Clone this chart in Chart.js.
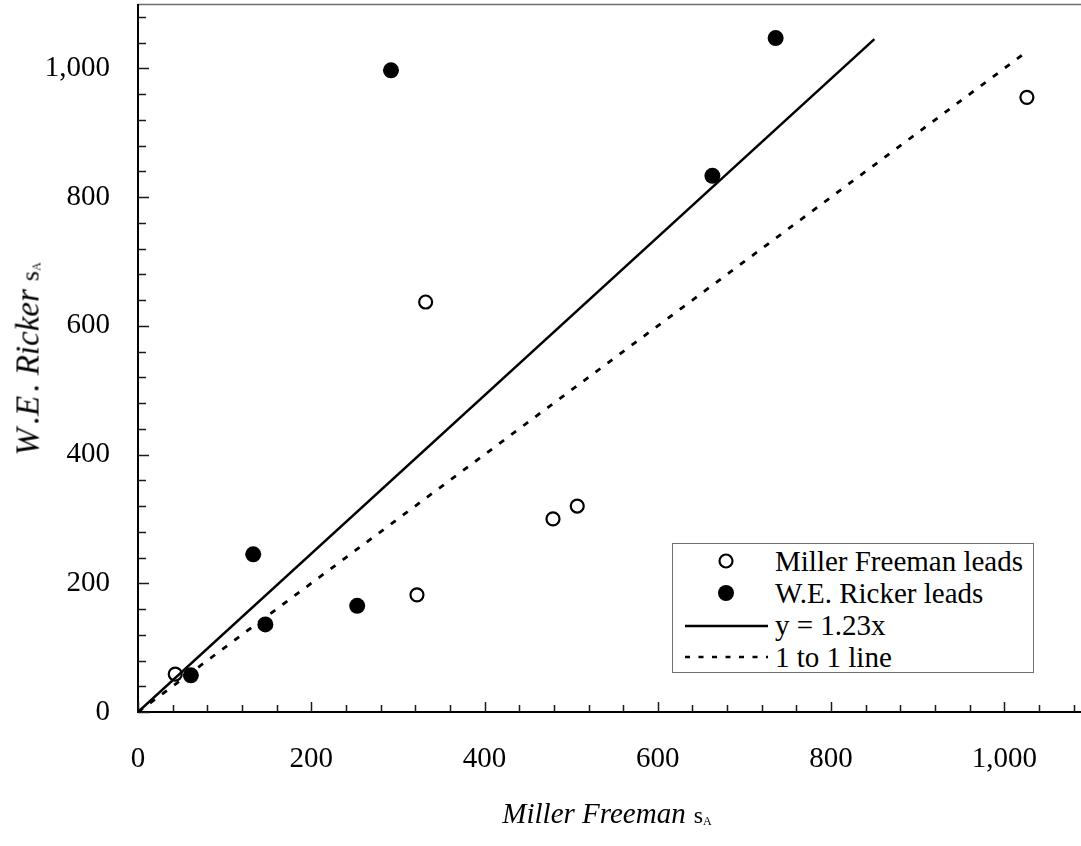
<!DOCTYPE html>
<html>
<head>
<meta charset="utf-8">
<script src="https://cdn.jsdelivr.net/npm/chart.js@4.4.0/dist/chart.umd.min.js"></script>
<style>
html,body{margin:0;padding:0;background:#fff;overflow:hidden;width:1081px;height:846px;}
#wrap{position:relative;width:1100px;height:846px;}
#wrap canvas{display:block;}
.serif{font-family:"Liberation Serif","Times New Roman",serif;color:#000;white-space:nowrap;}
.ttl{position:absolute;line-height:1;}
.ttl i{font-style:italic;}
.sa{font-style:normal;margin-left:8px;}
.sa sub{font-size:12px;vertical-align:-2px;}
#legend{position:absolute;left:672px;top:543px;width:362px;height:130px;border:1px solid #707070;box-sizing:border-box;background:#fff;}
.row{position:absolute;left:0;height:32px;width:360px;}
.row svg{position:absolute;left:0;top:0;}
.row span{position:absolute;left:102px;top:0;font-size:29px;line-height:32px;}
</style>
</head>
<body>
<div id="wrap">
  <canvas id="c" width="1100" height="846"></canvas>
  <div class="ttl serif" style="font-size:33px;left:28px;top:359px;transform:translate(-50%,-50%) rotate(-90deg);"><i>W<span style="margin-left:4px">.</span>E<span style="margin-left:4px">.</span> Ricker</i><span class="sa" style="font-size:26px;">s<sub>A</sub></span></div>
  <div class="ttl serif" style="font-size:29px;left:607px;top:813px;transform:translate(-50%,-50%);"><i>Miller Freeman</i><span class="sa" style="font-size:24px;">s<sub>A</sub></span></div>
  <div id="legend" class="serif">
    <div class="row" style="top:1px;">
      <svg width="100" height="32"><circle cx="53" cy="16" r="6.5" fill="none" stroke="#000" stroke-width="2.2"/></svg>
      <span>Miller Freeman leads</span>
    </div>
    <div class="row" style="top:33px;">
      <svg width="100" height="32"><circle cx="53" cy="16" r="8" fill="#000"/></svg>
      <span>W.E. Ricker leads</span>
    </div>
    <div class="row" style="top:65px;">
      <svg width="100" height="32"><line x1="12" y1="17" x2="95" y2="17" stroke="#000" stroke-width="2.5"/></svg>
      <span>y = 1.23x</span>
    </div>
    <div class="row" style="top:97px;">
      <svg width="100" height="32"><line x1="12" y1="16" x2="95" y2="16" stroke="#000" stroke-width="2.5" stroke-dasharray="5,8.5"/></svg>
      <span>1 to 1 line</span>
    </div>
  </div>
</div>
<script>
// ---- data ----
const millerX = [43, 322, 332, 479, 507, 1026];
const millerY = [59, 182, 637, 300, 320, 955];
const rickerX = [61, 133, 147, 253, 292, 663, 736];
const rickerY = [57, 245, 136, 165, 997, 833, 1047];
const fitLineX = [0, 850];
const fitLineY = [0, 1045.5];
const oneToOneX = [0, 1026];
const oneToOneY = [0, 1026];
const xTickValues = [0, 200, 400, 600, 800, 1000];
const yTickValues = [0, 200, 400, 600, 800, 1000];
const minorStep = 40;

const pts = (xs, ys) => xs.map((x, i) => ({x: x, y: ys[i]}));
const fmt = v => Number(v).toLocaleString('en-US');

const axesPlugin = {
  id: 'axesPlugin',
  beforeDatasetsDraw(chart) {
    const ctx = chart.ctx;
    const xs = chart.scales.x, ys = chart.scales.y;
    const a = chart.chartArea;
    ctx.save();
    // top border
    ctx.strokeStyle = '#6e6e6e';
    ctx.lineWidth = 1.5;
    ctx.beginPath();
    ctx.moveTo(a.left, a.top + 0.5);
    ctx.lineTo(a.right, a.top + 0.5);
    ctx.stroke();
    // axes
    ctx.strokeStyle = '#000';
    ctx.lineWidth = 2;
    ctx.beginPath();
    ctx.moveTo(a.left, a.top);
    ctx.lineTo(a.left, a.bottom);
    ctx.lineTo(a.right, a.bottom);
    ctx.stroke();
    // ticks
    ctx.lineWidth = 1.5;
    ctx.strokeStyle = '#1a1a1a';
    ctx.beginPath();
    for (let v = 0; v <= xs.max + 0.001; v += minorStep) {
      const major = xTickValues.includes(v);
      const px = Math.round(xs.getPixelForValue(v)) + 0.5;
      ctx.moveTo(px, a.bottom);
      ctx.lineTo(px, a.bottom - (major ? 10 : 7));
    }
    for (let v = 0; v <= ys.max + 0.001; v += minorStep) {
      const major = yTickValues.includes(v);
      const py = Math.round(ys.getPixelForValue(v)) + 0.5;
      ctx.moveTo(a.left, py);
      ctx.lineTo(a.left + (major ? 11 : 8), py);
    }
    ctx.stroke();
    ctx.restore();
  }
};

new Chart(document.getElementById('c'), {
  type: 'scatter',
  data: {
    datasets: [
      {
        label: 'Miller Freeman leads',
        data: pts(millerX, millerY),
        pointStyle: 'circle',
        pointRadius: 6.5,
        pointBorderWidth: 2.2,
        pointBorderColor: '#000',
        pointBackgroundColor: 'rgba(0,0,0,0)',
        showLine: false
      },
      {
        label: 'W.E. Ricker leads',
        data: pts(rickerX, rickerY),
        pointStyle: 'circle',
        pointRadius: 8,
        pointBorderWidth: 0,
        pointBorderColor: '#000',
        pointBackgroundColor: '#000',
        showLine: false
      },
      {
        label: 'y = 1.23x',
        data: pts(fitLineX, fitLineY),
        showLine: true,
        borderColor: '#000',
        borderWidth: 2.5,
        pointRadius: 0,
        tension: 0
      },
      {
        label: '1 to 1 line',
        data: pts(oneToOneX, oneToOneY),
        showLine: true,
        borderColor: '#000',
        borderWidth: 2.8,
        borderDash: [6, 9],
        pointRadius: 0,
        tension: 0
      }
    ]
  },
  options: {
    responsive: false,
    animation: false,
    events: [],
    layout: {autoPadding: false, padding: {left: 0, top: 4, right: 9, bottom: 0}},
    plugins: {legend: {display: false}, tooltip: {enabled: false}},
    scales: {
      x: {
        type: 'linear',
        min: 0, max: 1100,
        grid: {display: false, drawTicks: false},
        border: {display: false},
        afterFit: s => { s.height = 134; s.paddingLeft = 0; s.paddingRight = 0; },
        afterBuildTicks: s => { s.ticks = xTickValues.map(v => ({value: v})); },
        ticks: {
          padding: 30,
          color: '#000',
          maxRotation: 0,
          font: {family: '"Liberation Serif", "Times New Roman", serif', size: 29},
          callback: v => fmt(v)
        }
      },
      y: {
        type: 'linear',
        min: 0, max: 1100,
        grid: {display: false, drawTicks: false},
        border: {display: false},
        afterFit: s => { s.width = 138; s.paddingTop = 0; s.paddingBottom = 0; },
        afterBuildTicks: s => { s.ticks = yTickValues.map(v => ({value: v})); },
        ticks: {
          padding: 28,
          color: '#000',
          font: {family: '"Liberation Serif", "Times New Roman", serif', size: 29},
          callback: v => fmt(v)
        }
      }
    }
  },
  plugins: [axesPlugin]
});
</script>
</body>
</html>
